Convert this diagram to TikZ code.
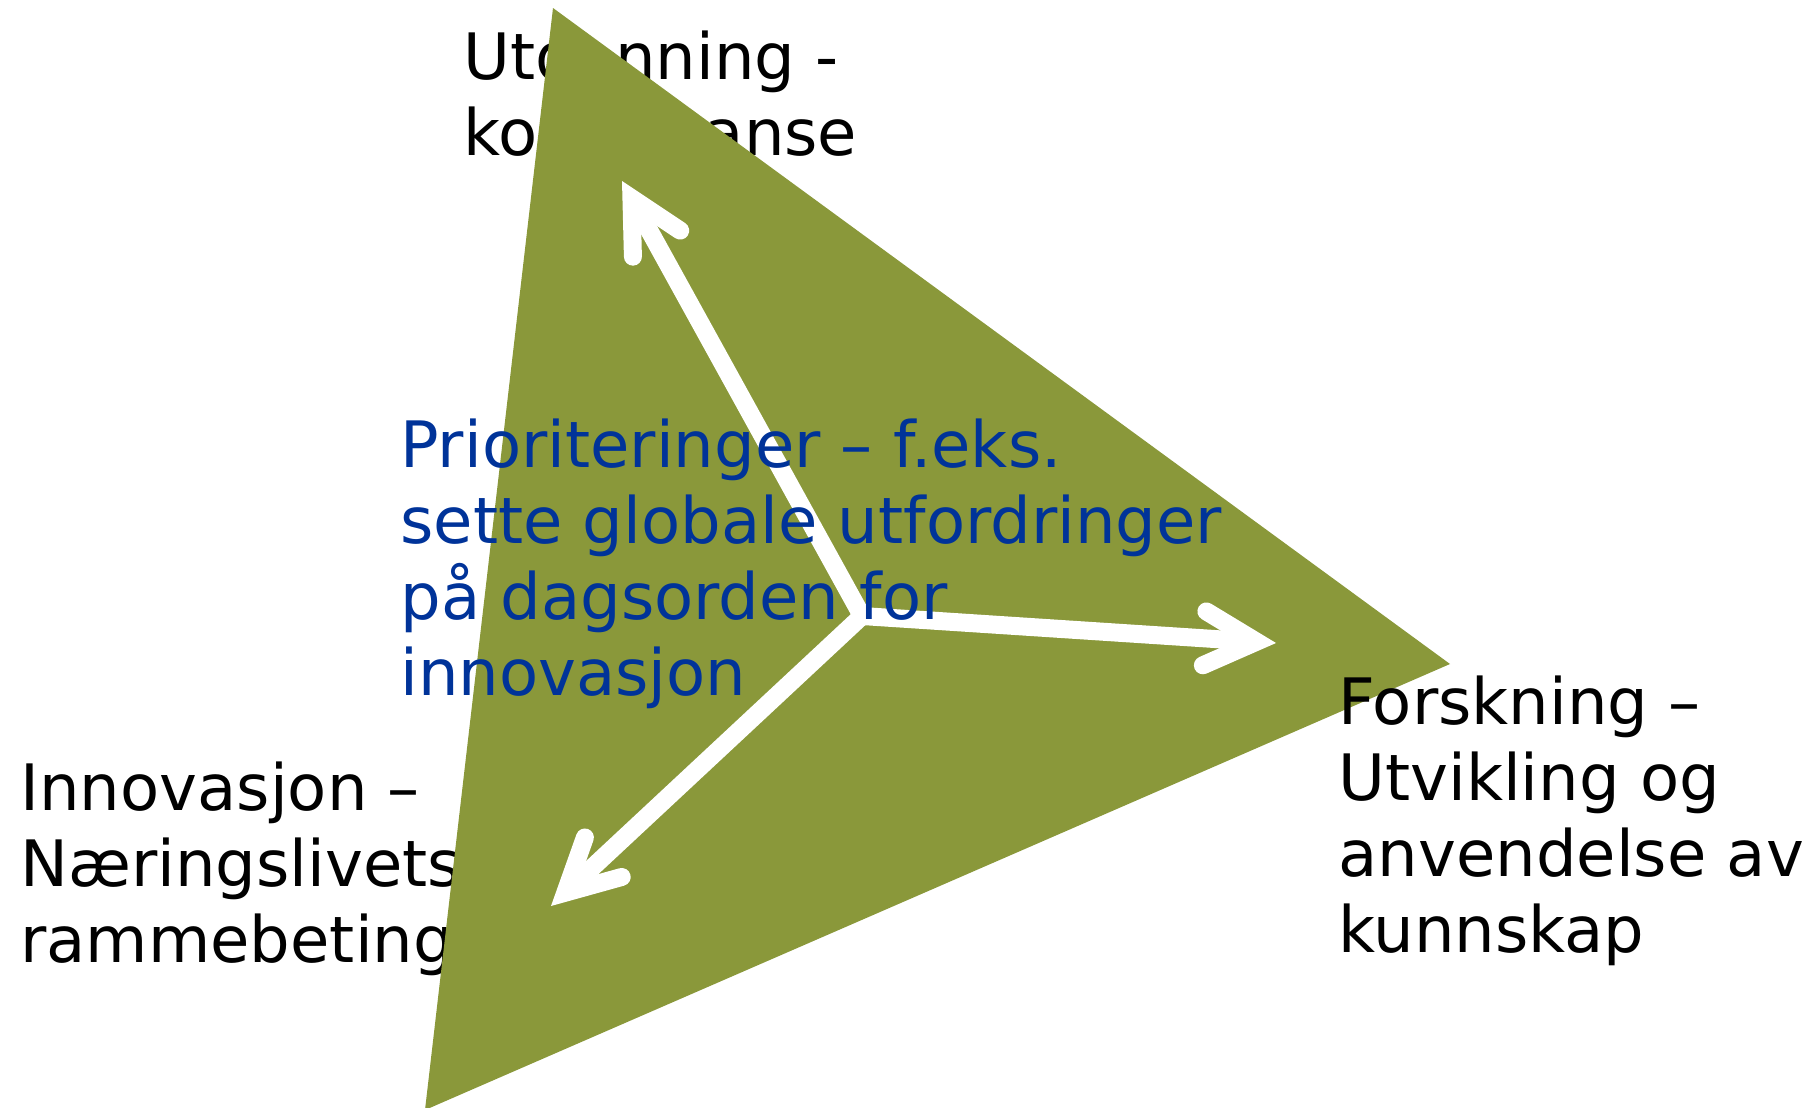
\documentclass[tikz,border=0pt]{standalone}
\usepackage{fontspec}
\setmainfont{DejaVu Sans}
\usetikzlibrary{arrows.meta}
\definecolor{triGreen}{HTML}{8A983A}
\definecolor{blueText}{HTML}{003399}
\begin{document}
\begin{tikzpicture}[x=0.5pt,y=-0.5pt,
  lbl/.style={font=\fontsize{32}{38}\selectfont, align=left, inner sep=0pt, anchor=base west},
  barb/.tip={Straight Barb[length=26pt,width=27pt,line cap=round,line join=miter]},
  warrow/.style={draw=white, line width=9pt, line join=miter}]
\useasboundingbox (0,0) rectangle (1816,1108);
% labels behind the triangle (anchor = baseline of last line)
\node[lbl] (utd) at (463,155) {Utdanning -\\kompetanse};
\node[lbl] (inn) at (20,962) {Innovasjon –\\Næringslivets\\rammebetingelser};
% triangle
\coordinate (A) at (553,8);
\coordinate (B) at (1450,664);
\coordinate (C) at (425,1110);
\fill[triGreen] (A) -- (B) -- (C) -- cycle;
% arrows
\coordinate (c) at (862,616);
\coordinate (t) at (622,181);
\coordinate (r) at (1276,643);
\coordinate (l) at (551,906);
\draw[warrow, barb-barb] (t) -- (c) -- (r);
\draw[warrow, -barb] (c) -- (l);
% texts on top
\node[lbl, text=blueText] (prio) at (400,695) {Prioriteringer – f.eks.\\sette globale utfordringer\\på dagsorden for\\innovasjon};
\node[lbl] (forsk) at (1338,952) {Forskning –\\Utvikling og\\anvendelse av\\kunnskap};
\end{tikzpicture}
\end{document}
